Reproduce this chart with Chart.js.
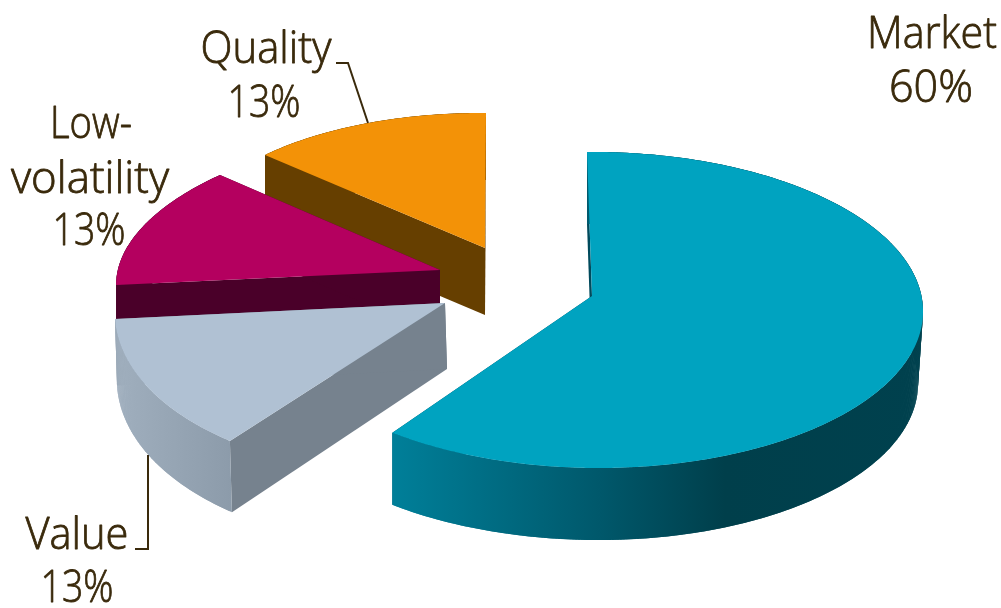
<!DOCTYPE html>
<html>
<head>
<meta charset="utf-8">
<title>Portfolio split</title>
<script src="https://cdn.jsdelivr.net/npm/chart.js@4/dist/chart.umd.js"></script>
<style>
  html, body { margin: 0; padding: 0; background: #fff; }
  canvas { display: block; }
</style>
</head>
<body>
<canvas id="pie" width="1001" height="608"></canvas>
<script>
// --- data
const categories = ['Market', 'Value', 'Low-volatility', 'Quality'];
const shares = [60, 13, 13, 13];

// --- slice colours: top face, cut side, rim gradient stops [x, colour]
const faceColors = ['#00a3c0', '#b0c1d3', '#b4005f', '#f39207'];
const cutColors = ['#004a5c', '#76828e', '#4a0029', '#663f00'];
const rimStops = [
  [[393, '#007f99'], [600, '#00586b'], [725, '#003f4b'], [922, '#00414e']],
  [[115, '#a0afbe'], [233, '#8c9baa']],
  [[116, '#4a0029'], [440, '#4a0029']],
  [[265, '#663f00'], [486, '#663f00']]
];

// --- tilted view of each exploded slice
// cx,cy = tip of the wedge; ox,oy = where the rim ellipse is centred, relative to the tip
// a,b,c,d = unit circle to screen; q = side-on perspective
// depth = slab height, grow = extra height towards the front, shrink = narrower underside, lean = sideways drift
const views = [
  { cx: 592, cy: 296, ox: -2, oy: 14, a: 327, b: 3, c: 0, d: 158, q: 0.018, depth: 72, grow: 0, shrink: 0.985, lean: 0 },
  { cx: 445, cy: 303, ox: 0, oy: 0, a: 329.9, b: -14.2, c: -2.2, d: 173.8, q: 0, depth: 66, grow: 0.1, shrink: 1, lean: 2 },
  { cx: 440, cy: 270, ox: 0, oy: 0, a: 322.9, b: -25.4, c: -3.6, d: 143.9, q: 0, depth: 66, grow: 0, shrink: 1, lean: 0 },
  { cx: 485, cy: 248, ox: 0, oy: 0, a: 300.4, b: -1, c: 1.9, d: 135, q: 0, depth: 67, grow: 0, shrink: 1, lean: 0 }
];

// --- text lines [text, centre x, baseline y, width] and leader lines
const labelLines = [
  ['Market', 932, 48, 130], ['60%', 931, 102, 84],
  ['Value', 77, 549, 103], ['13%', 77, 602, 73],
  ['Low-', 91, 138, 82], ['volatility', 90, 193, 158], ['13%', 89, 245, 73],
  ['Quality', 266, 63, 131], ['13%', 264, 117, 73]
];
const leaders = [
  [[135, 549], [148, 549], [148, 455]],
  [[336, 63], [348, 63], [368, 123]]
];
const INK = '#3a2a0c';
const LABEL_FONT = '300 45px "Open Sans"';

// --- projection helper: angle + radius on the pie to canvas pixels
function project(v, angle, r, drop) {
  const X = Math.cos(angle) * r, Y = Math.sin(angle) * r;
  const w = 1 - v.q * X;
  let x = (v.a * X + v.b * Y) / w + v.ox * r;
  let y = (v.c * X + v.d * Y) / w + v.oy * r;
  if (drop) {
    if (x > 0) x *= v.shrink;
    x += v.lean;
    y += v.depth * (1 + v.grow * Y);
  }
  return [v.cx + x, v.cy + y];
}

function fillPoly(ctx, pts, fill) {
  ctx.beginPath();
  pts.forEach((p, i) => i ? ctx.lineTo(p[0], p[1]) : ctx.moveTo(p[0], p[1]));
  ctx.closePath();
  ctx.fillStyle = fill;
  ctx.fill();
}

function rimPoints(v, start, end, drop) {
  const n = Math.ceil((end - start) / (Math.PI / 360));
  const pts = [];
  for (let i = 0; i <= n; i++) pts.push(project(v, start + (end - start) * i / n, 1, drop));
  return pts;
}

function drawSlice(ctx, arc, i) {
  const v = views[i];
  const { startAngle, endAngle } = arc.getProps(['startAngle', 'endAngle'], true);

  // cut sides first, the rim and the top face go over them
  [startAngle, endAngle].forEach(a => {
    fillPoly(ctx, [
      project(v, a, 0, false), project(v, a, 1, false),
      project(v, a, 1, true), project(v, a, 0, true)
    ], cutColors[i]);
  });

  const top = rimPoints(v, startAngle, endAngle, false);
  const bottom = rimPoints(v, startAngle, endAngle, true);
  const stops = rimStops[i];
  const x0 = stops[0][0], x1 = stops[stops.length - 1][0];
  const grad = ctx.createLinearGradient(x0, 0, x1, 0);
  stops.forEach(s => grad.addColorStop((s[0] - x0) / (x1 - x0), s[1]));
  // rim as overlapping strips, so the silhouette stays closed at the widest point
  for (let k = 0; k < top.length - 1; k++) {
    const n = Math.min(k + 2, top.length - 1);
    fillPoly(ctx, [top[k], top[n], bottom[n], bottom[k]], grad);
  }

  fillPoly(ctx, [project(v, startAngle, 0, false)].concat(top), faceColors[i]);
}

// --- plugin: replaces the flat arcs with the tilted slabs
const slabPie = {
  id: 'slabPie',
  beforeDatasetDraw(chart, args) {
    const ctx = chart.ctx;
    const arcs = chart.getDatasetMeta(args.index).data;
    // back to front
    [3, 2, 1, 0].forEach(i => drawSlice(ctx, arcs[i], i));
    return false;
  },
  afterDraw(chart) {
    const ctx = chart.ctx;
    ctx.save();
    ctx.strokeStyle = INK;
    ctx.lineWidth = 2;
    leaders.forEach(l => {
      ctx.beginPath();
      l.forEach((p, i) => i ? ctx.lineTo(p[0], p[1]) : ctx.moveTo(p[0], p[1]));
      ctx.stroke();
    });
    ctx.fillStyle = INK;
    ctx.lineWidth = 0.8;
    ctx.lineJoin = 'round';
    ctx.font = LABEL_FONT;
    ctx.textAlign = 'center';
    ctx.textBaseline = 'alphabetic';
    labelLines.forEach(l => {
      ctx.save();
      ctx.translate(l[1], l[2]);
      ctx.scale(l[3] / ctx.measureText(l[0]).width, 1);
      ctx.fillText(l[0], 0, 0);
      ctx.strokeText(l[0], 0, 0); // a touch heavier than the light weight
      ctx.restore();
    });
    ctx.restore();
  }
};

new Chart(document.getElementById('pie'), {
  type: 'pie',
  data: {
    labels: categories,
    datasets: [{ data: shares, backgroundColor: faceColors, borderWidth: 0 }]
  },
  options: {
    responsive: false,
    animation: false,
    plugins: { legend: { display: false }, tooltip: { enabled: false } }
  },
  plugins: [slabPie]
});
</script>
</body>
</html>
